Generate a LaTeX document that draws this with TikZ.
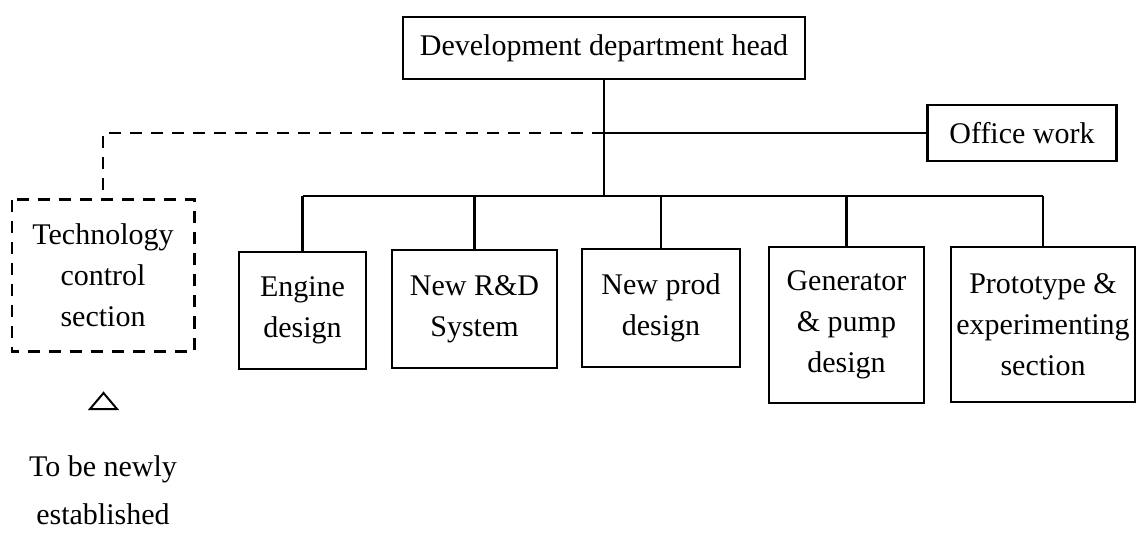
\documentclass[tikz,border=0pt]{standalone}
\usepackage{fontspec}
\setmainfont{Liberation Serif}
\begin{document}
\begin{tikzpicture}[x=1pt,y=-1pt,
  font=\fontsize{30}{41}\selectfont,
  unit/.style={draw, line width=2.6pt, inner sep=0pt, align=center},
  link/.style={line width=2.4pt},
  planned/.style={line width=2.4pt, dash pattern=on 12pt off 9pt}]
\useasboundingbox (0,0) rectangle (1136,540);

% department head and staff office
\node[unit, minimum width=402pt, minimum height=62pt] (head) at (604,48) {Development department head};
\node[unit, minimum width=189pt, minimum height=56pt] (office) at (1022,133) {Office work};

% sections under the head
\node[unit, minimum width=127pt, minimum height=117pt] (engine) at (302.5,310.5) {Engine\\design};
\node[unit, minimum width=165pt, minimum height=118pt] (rnd) at (474.5,309) {New R\&D\\System};
\node[unit, minimum width=158pt, minimum height=118pt] (prod) at (661,308) {New prod\\design};
\node[unit, minimum width=155pt, minimum height=156pt] (gen) at (846.5,325) {Generator\\\& pump\\design};
\node[unit, minimum width=184pt, minimum height=155pt] (proto) at (1043,324.5) {Prototype \&\\experimenting\\section};

% planned section
\node[unit, draw=none, minimum width=180pt, minimum height=149pt] (tech) at (103,275.5) {Technology\\control\\section};
\draw[planned] (tech.north west) rectangle (tech.south east);

% tree connectors
\coordinate (bus) at (0,196);
\draw[link] (head.south) -- (head.south |- bus);
\draw[link] (engine.north |- bus) -- (proto.north |- bus);
\foreach \n in {engine,rnd,prod,gen,proto}
  \draw[link] (\n.north |- bus) -- (\n.north);

% staff line to the office and dashed line to the planned section
\draw[link] (head.south |- office.west) -- (office.west);
\draw[planned] (head.south |- office.west) -- (tech.north |- office.west) -- (tech.north);

% legend
\draw[line width=2pt] (90,409) -- (117,409) -- (103.5,393) -- cycle;
\node[align=center, font=\fontsize{30}{48}\selectfont] (legend) at (103,490) {To be newly\\established};
\end{tikzpicture}
\end{document}
